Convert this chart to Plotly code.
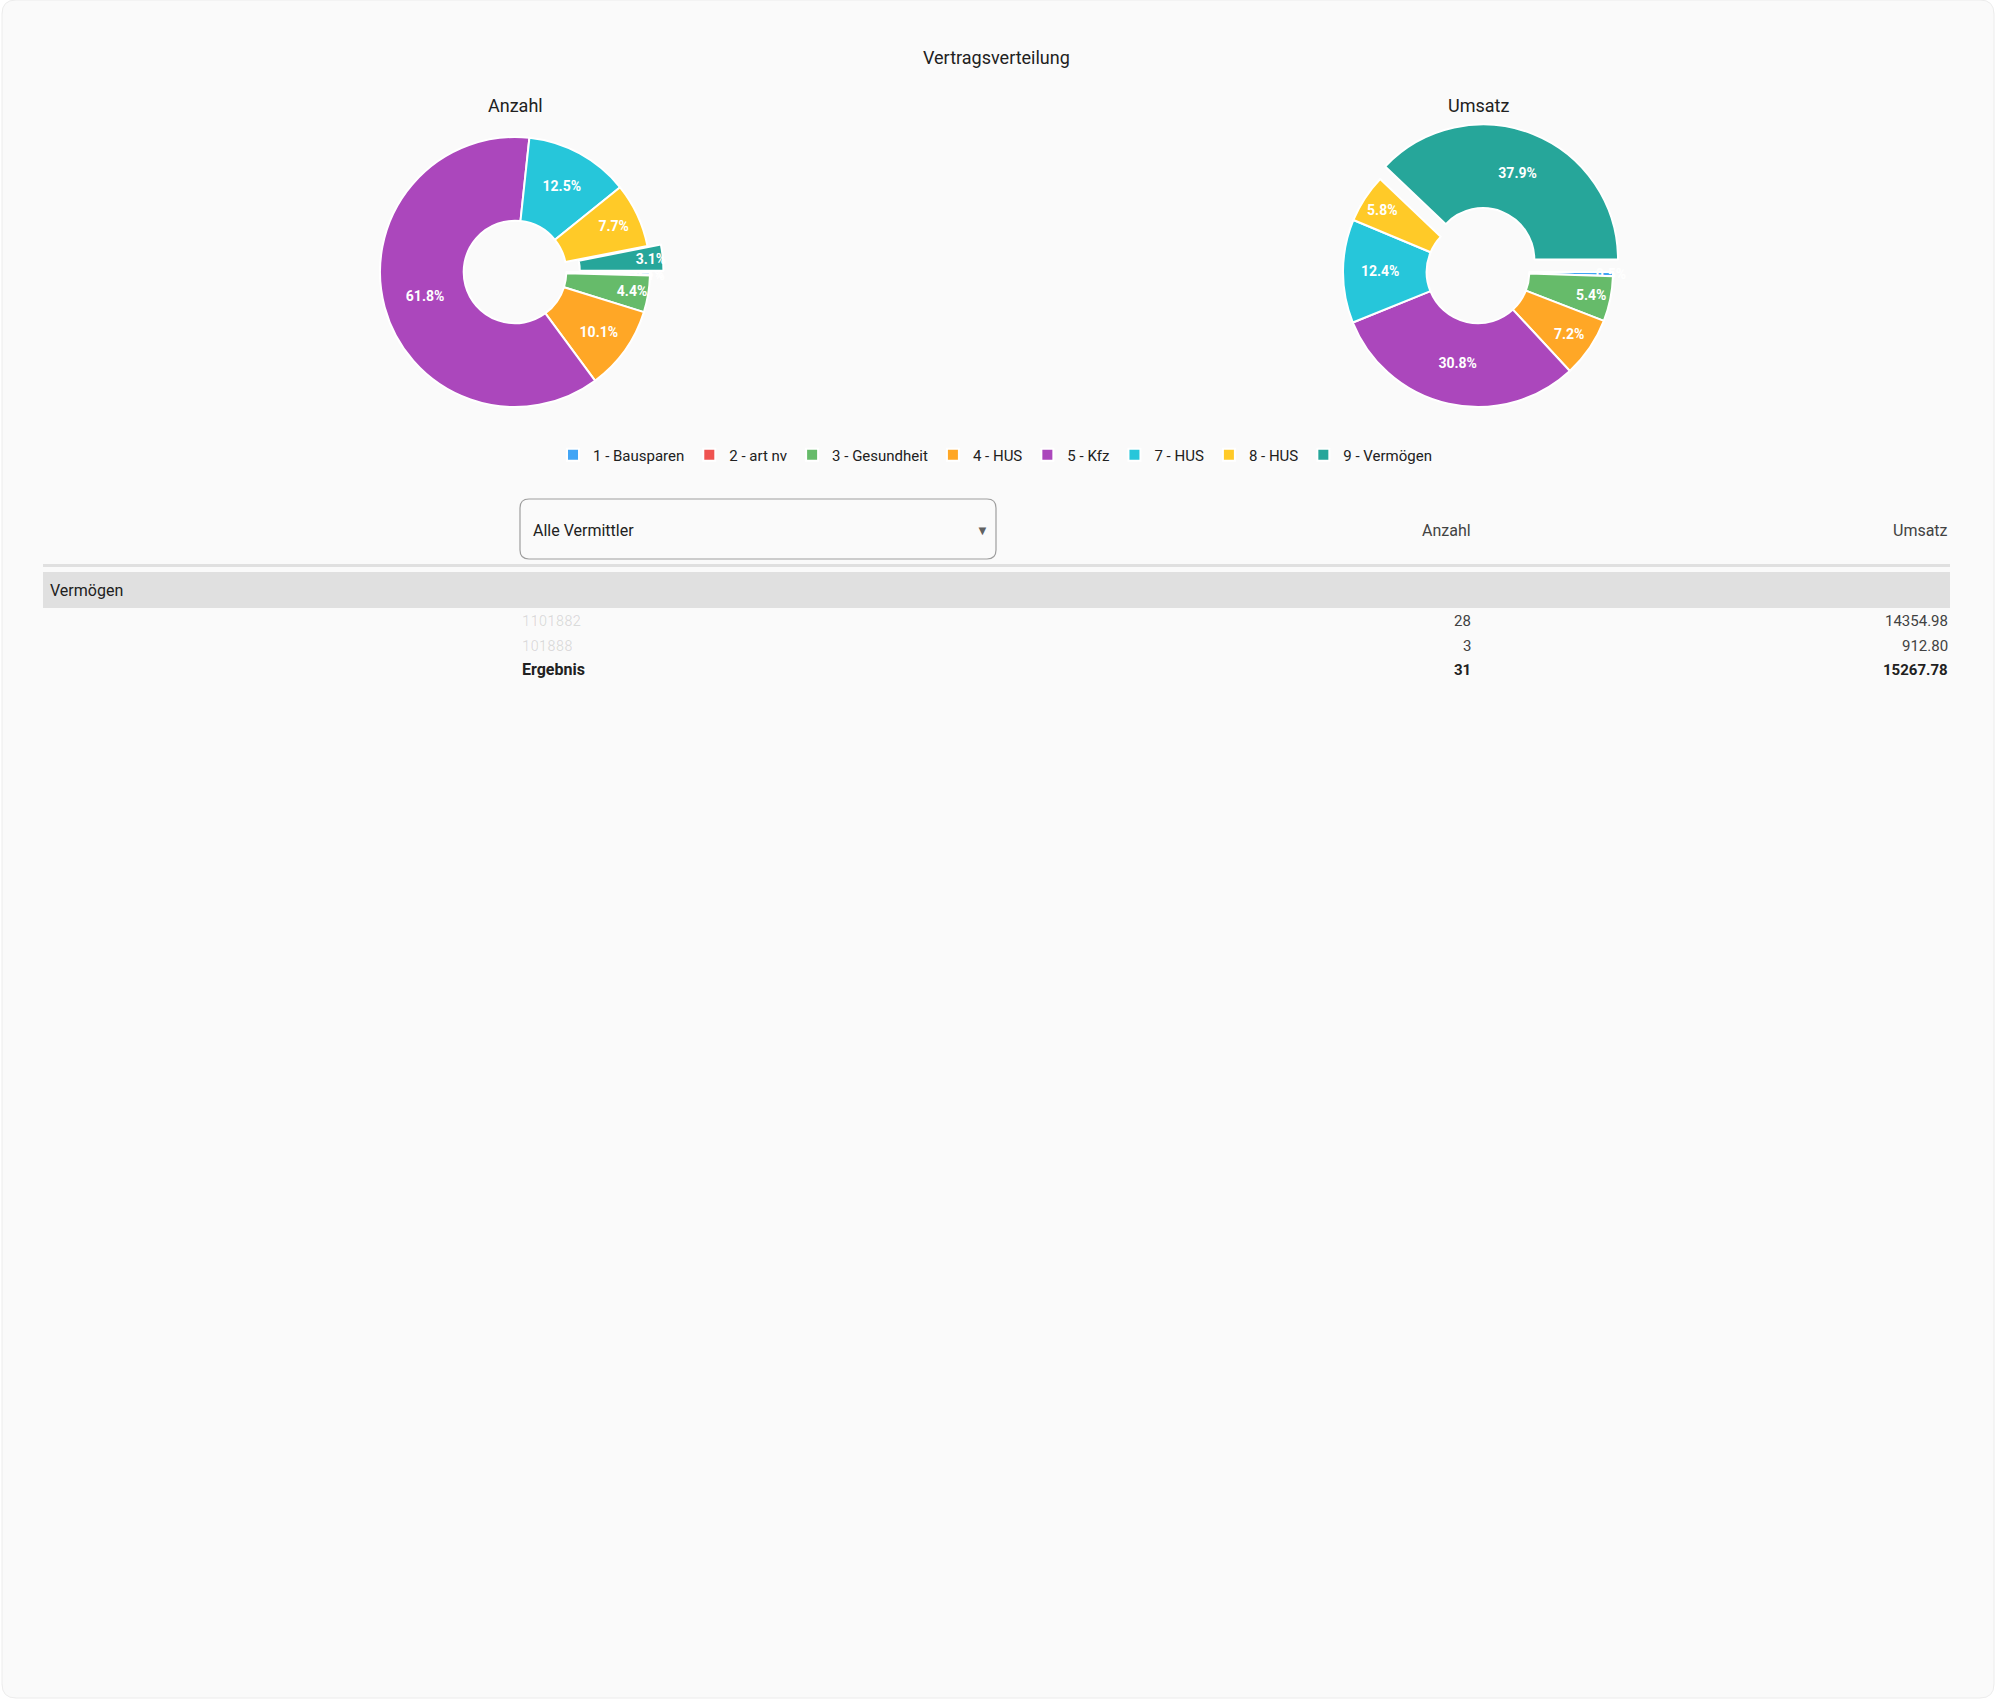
import plotly.graph_objects as go

W, H = 2000, 1700

# ---------------- data ----------------
chart_title = "Vertragsverteilung"
categories = ["1 - Bausparen", "2 - art nv", "3 - Gesundheit", "4 - HUS",
              "5 - Kfz", "7 - HUS", "8 - HUS", "9 - Vermögen"]
colors = ["#42A5F5", "#EF5350", "#66BB6A", "#FFA726",
          "#AB47BC", "#26C6DA", "#FFCA28", "#26A69A"]
anzahl = [3, 1, 44, 101, 618, 125, 77, 31]
umsatz = [201, 0, 2175, 2900, 12407, 4995, 2336, 15268]
highlight = "9 - Vermögen"

dropdown_label = "Alle Vermittler"
table_columns = ["Anzahl", "Umsatz"]
group_label = "Vermögen"
row_names = ["1101882", "101888"]
row_anzahl = [28, 3]
row_umsatz = [14354.98, 912.80]
total_label = "Ergebnis"

FONT = "Roboto"
TXT = "#212121"


def px(x):
    return x / W


def py(y):
    return 1 - y / H


def rrect(x0, y0, x1, y1, r):
    """rounded rectangle path in paper coords from pixel coords"""
    pts = [
        f"M{px(x0 + r)},{py(y0)}",
        f"L{px(x1 - r)},{py(y0)}",
        f"Q{px(x1)},{py(y0)} {px(x1)},{py(y0 + r)}",
        f"L{px(x1)},{py(y1 - r)}",
        f"Q{px(x1)},{py(y1)} {px(x1 - r)},{py(y1)}",
        f"L{px(x0 + r)},{py(y1)}",
        f"Q{px(x0)},{py(y1)} {px(x0)},{py(y1 - r)}",
        f"L{px(x0)},{py(y0 + r)}",
        f"Q{px(x0)},{py(y0)} {px(x0 + r)},{py(y0)}",
        "Z",
    ]
    return " ".join(pts)


fig = go.Figure()

R = 135
half = R * 1.1
for name, values, cx in [("Anzahl", anzahl, 515), ("Umsatz", umsatz, 1478)]:
    cy = 272
    fig.add_trace(go.Pie(
        labels=categories, values=values, name=name,
        sort=False, direction="clockwise", rotation=90, hole=0.38,
        pull=[0.1 if c == highlight else 0 for c in categories],
        marker=dict(colors=colors, line=dict(color="white", width=2)),
        texttemplate="%{percent:.1%}", textposition="inside",
        insidetextorientation="horizontal",
        textfont=dict(color="white", size=14, family=FONT, weight="bold"),
        domain=dict(x=[px(cx - half), px(cx + half)],
                    y=[py(cy + half), py(cy - half)]),
        hoverinfo="label+value+percent",
    ))

annotations = []


def ann(text, x, y, xanchor="center", size=16, color=TXT, bold=False):
    annotations.append(dict(
        text=f"<b>{text}</b>" if bold else text,
        x=px(x), y=py(y), xref="paper", yref="paper",
        xanchor=xanchor, yanchor="middle", showarrow=False,
        font=dict(family=FONT, size=size, color=color),
    ))


ann(chart_title, 996, 57, size=18)
ann("Anzahl", 515, 105, size=18)
ann("Umsatz", 1478, 105, size=18)

# dropdown
ann(dropdown_label, 531, 530, xanchor="left", size=16)
ann("▼", 982, 530, size=13, color="#616161")

# table header
col_x = [1473, 1950]
for c, x in zip(table_columns, col_x):
    ann(c, x, 530, xanchor="right", size=16, color="#424242")

ann(group_label, 48, 590, xanchor="left", size=16)

row_y = [621, 646]
for nm, a, u, y in zip(row_names, row_anzahl, row_umsatz, row_y):
    ann(nm, 520, y, xanchor="left", size=15, color="rgba(0,0,0,0.13)")
    ann(f"{a}", col_x[0], y, xanchor="right", size=15, color="#424242")
    ann(f"{u:.2f}", col_x[1], y, xanchor="right", size=15, color="#424242")

ann(total_label, 520, 670, xanchor="left", size=16, bold=True)
ann(f"{sum(row_anzahl)}", col_x[0], 670, xanchor="right", size=15, bold=True)
ann(f"{sum(row_umsatz):.2f}", col_x[1], 670, xanchor="right", size=15, bold=True)

shapes = [
    # card
    dict(type="path", path=rrect(2, 0, 1994, 1698, 14), xref="paper", yref="paper",
         fillcolor="#fafafa", line=dict(color="#ececec", width=1), layer="below"),
    # dropdown box
    dict(type="path", path=rrect(520, 499, 996, 559, 9), xref="paper", yref="paper",
         fillcolor="rgba(0,0,0,0)", line=dict(color="#9e9e9e", width=1.2), layer="below"),
    # header rule
    dict(type="rect", x0=px(43), x1=px(1950), y0=py(567), y1=py(564),
         xref="paper", yref="paper", fillcolor="#e0e0e0", line=dict(width=0), layer="below"),
    # group band
    dict(type="rect", x0=px(43), x1=px(1950), y0=py(608), y1=py(572),
         xref="paper", yref="paper", fillcolor="#e0e0e0", line=dict(width=0), layer="below"),
]

fig.update_layout(
    width=W, height=H,
    margin=dict(l=0, r=0, t=0, b=0),
    paper_bgcolor="white",
    font=dict(family=FONT, color=TXT),
    uniformtext=dict(minsize=14, mode="show"),
    legend=dict(orientation="h", x=0.4975, xanchor="center", y=py(455), yanchor="middle",
                font=dict(family=FONT, size=15, color=TXT), bgcolor="rgba(0,0,0,0)",
                itemclick=False, itemdoubleclick=False, itemsizing="constant"),
    annotations=annotations,
    shapes=shapes,
)

fig.write_html("out.html", config={"displayModeBar": False},
               post_script="document.body.style.margin='0';document.body.style.overflow='hidden';")
